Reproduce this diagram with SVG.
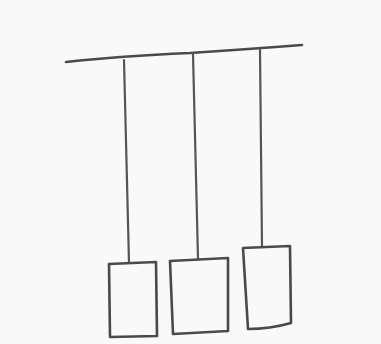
<svg xmlns="http://www.w3.org/2000/svg" width="381" height="344" viewBox="0 0 381 344">
<style>
.s{fill:none;stroke:#555;stroke-width:2.2;stroke-linecap:round;stroke-linejoin:round}
.b{fill:none;stroke:#4a4a4a;stroke-width:2.6;stroke-linecap:round;stroke-linejoin:round}
</style>
<rect width="381" height="344" fill="#f9f9f9"/>
<g id="bar"><path class="b" d="M66,62 Q120,56 190,53 Q250,49 302,45"/></g>
<g id="connectors">
<path class="s" d="M124,60 L129,263"/>
<path class="s" d="M193,54 L198,259"/>
<path class="s" d="M260,50 L262,247"/>
</g>
<g id="box1"><path class="b" d="M109,264 L156,262 L157,336 L110,337 Z"/></g>
<g id="box2"><path class="b" d="M170,261 L228,258 L228,331 L173,334 Z"/></g>
<g id="box3"><path class="b" d="M243,248 L290,246 L291,323 Q270,329 248,329 Z"/></g>
</svg>
